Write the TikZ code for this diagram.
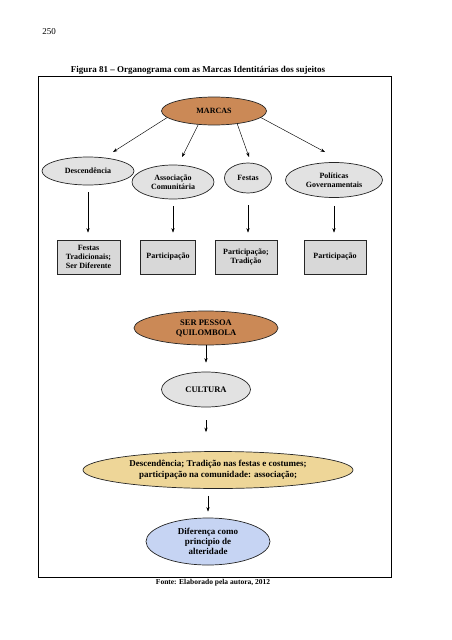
\documentclass[tikz,border=0pt]{standalone}
\usepackage{fontspec}
\setmainfont{Liberation Serif}
\usetikzlibrary{shapes.geometric,arrows.meta}

\definecolor{madeira}{RGB}{203,137,86}
\definecolor{marmore}{RGB}{226,226,226}
\definecolor{marmorecx}{RGB}{216,216,216}
\definecolor{pergaminho}{RGB}{238,214,152}
\definecolor{celeste}{RGB}{198,212,243}

\begin{document}
\begin{tikzpicture}[x=1pt,y=-1pt,
    >={Stealth[length=4.5pt,width=3.2pt]},
    rotulo/.style={font=\bfseries\fontsize{8}{9}\selectfont,align=center,inner sep=0pt},
    elipse/.style={rotulo,ellipse,draw=black!85,line width=0.7pt},
    caixa/.style={rotulo,rectangle,draw=black!85,line width=0.7pt,fill=marmorecx,minimum height=34pt},
    seta/.style={->,line width=0.45pt}]
    \useasboundingbox (0,0) rectangle (452,640);

    % cabecalho e moldura
    \node[font=\fontsize{9}{10}\selectfont] (pagina) at (49,32) {250};
    \node[font=\bfseries\fontsize{9}{10}\selectfont] (titulo) at (198,70) {Figura 81 -- Organograma com as Marcas Identitárias dos sujeitos};
    \draw[line width=0.8pt] (38,76) rectangle (391,577);
    \node[font=\bfseries\fontsize{7.5}{8}\selectfont] (fonte) at (213,583) {Fonte: Elaborado pela autora, 2012};

    % topo
    \node[elipse,fill=madeira,minimum width=105pt,minimum height=28pt] (marcas) at (214,111) {MARCAS};

    % segundo nivel
    \node[elipse,fill=marmore,minimum width=92pt,minimum height=28pt] (desc) at (88,171) {Descendência};
    \node[elipse,fill=marmore,minimum width=82pt,minimum height=34pt] (assoc) at (173,182) {Associação\\Comunitária};
    \node[elipse,fill=marmore,minimum width=47pt,minimum height=30pt] (festas) at (248,178) {Festas};
    \node[elipse,fill=marmore,minimum width=97pt,minimum height=35pt] (polit) at (334,180) {Políticas\\Governamentais};

    \coordinate (c1) at (113,152);
    \coordinate (c2) at (182,157);
    \coordinate (c3) at (249,157);
    \coordinate (c4) at (325,152);
    \draw[seta] (marcas.188) -- (c1);
    \draw[seta] (marcas.221) -- (c2);
    \draw[seta] (marcas.331) -- (c3);
    \draw[seta] (marcas.352) -- (c4);

    % terceiro nivel
    \node[caixa,minimum width=63pt] (b1) at (88.5,257) {Festas\\Tradicionais;\\Ser Diferente};
    \node[caixa,minimum width=55pt] (b2) at (168,257) {Participação};
    \node[caixa,minimum width=62pt] (b3) at (246,257) {Participação;\\Tradição};
    \node[caixa,minimum width=62pt] (b4) at (335,257) {Participação};

    \draw[seta,shorten <=7pt,shorten >=7pt] (desc.south) -- (desc.south |- b1.north);
    \draw[seta,shorten <=7pt,shorten >=7pt] (assoc.south) -- (assoc.south |- b2.north);
    \draw[seta,shorten <=12pt,shorten >=7pt] (festas.south) -- (festas.south |- b3.north);
    \draw[seta,shorten <=8pt,shorten >=7pt] (polit.south) -- (polit.south |- b4.north);

    % coluna central
    \node[elipse,fill=madeira,minimum width=144pt,minimum height=34pt,font=\bfseries\fontsize{8.5}{10}\selectfont] (ser) at (206,328) {SER PESSOA\\QUILOMBOLA};
    \node[elipse,fill=marmore,minimum width=89pt,minimum height=35pt,font=\bfseries\fontsize{8.5}{10}\selectfont] (cultura) at (206,389.5) {CULTURA};
    \node[elipse,fill=pergaminho,minimum width=270pt,minimum height=37pt,font=\bfseries\fontsize{9}{11}\selectfont] (marcasid) at (218,470) {Descendência; Tradição nas festas e costumes;\\participação na comunidade: associação;};
    \node[elipse,fill=celeste,minimum width=124pt,minimum height=47pt,font=\bfseries\fontsize{9}{10}\selectfont] (alter) at (208,541.5) {Diferença como\\principio de\\alteridade};

    \draw[seta,shorten >=9pt] (ser.south) -- (ser.south |- cultura.north);
    \draw[seta,shorten <=13pt,shorten >=19pt] (cultura.south) -- (cultura.south |- marcasid.north);
    \draw[seta,shorten <=7pt,shorten >=6pt] (marcasid.south -| alter.north) -- (alter.north);
\end{tikzpicture}
\end{document}
